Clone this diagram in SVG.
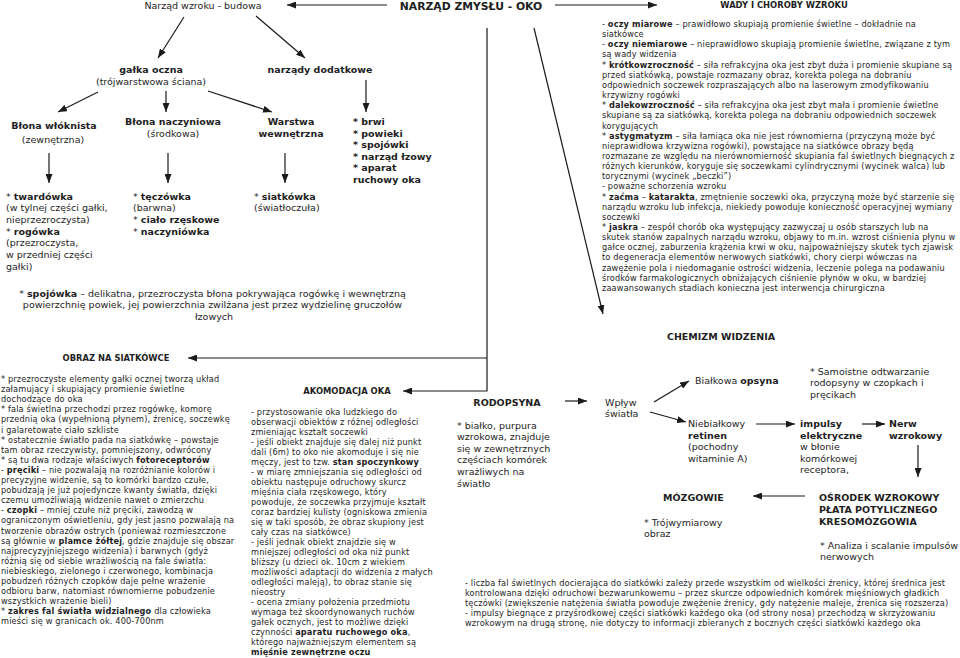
<svg xmlns="http://www.w3.org/2000/svg" width="960" height="658" viewBox="0 0 960 658">
<style>
text{font-family:"DejaVu Sans",Verdana,sans-serif;fill:#1e1e1e}
.p{font-size:8.2px;letter-spacing:0.15px}
.m{font-size:9.5px}
.h{font-size:8.4px;font-weight:bold}
.t{font-size:10.8px;font-weight:bold}
.b{font-weight:bold}
.c{text-anchor:middle}
.ln{stroke:#1a1a1a;stroke-width:1.2;fill:none}
.ar{marker-end:url(#ah)}
</style>
<defs>
<marker id="ah" markerUnits="userSpaceOnUse" markerWidth="9" markerHeight="7" refX="9" refY="3.5" orient="auto">
<path d="M0,0 L9,3.5 L0,7 z" fill="#1a1a1a"/>
</marker>
</defs>
<rect width="960" height="658" fill="#fff"/>

<g id="connectors">
<line class="ln ar" x1="387" y1="5" x2="287" y2="5"/>
<line class="ln ar" x1="555" y1="5" x2="657" y2="5"/>
<line class="ln ar" x1="184" y1="17" x2="158" y2="58"/>
<line class="ln ar" x1="256" y1="16" x2="305" y2="58"/>
<line class="ln ar" x1="98" y1="92" x2="58" y2="112"/>
<line class="ln ar" x1="166" y1="91" x2="166" y2="112"/>
<line class="ln ar" x1="208" y1="91" x2="272" y2="112"/>
<line class="ln ar" x1="366" y1="80" x2="366" y2="112"/>
<line class="ln ar" x1="49" y1="153" x2="49" y2="183"/>
<line class="ln ar" x1="168" y1="153" x2="168" y2="183"/>
<line class="ln ar" x1="285" y1="153" x2="285" y2="183"/>
<polyline class="ln ar" points="487,28 487,391 403,391"/>
<line class="ln ar" x1="487" y1="358" x2="188" y2="358"/>
<line class="ln ar" x1="534" y1="28" x2="603" y2="314"/>
<line class="ln ar" x1="565" y1="401" x2="587" y2="401"/>
<line class="ln ar" x1="654" y1="402" x2="689" y2="381"/>
<line class="ln ar" x1="650" y1="412" x2="686" y2="422"/>
<line class="ln ar" x1="756" y1="424" x2="795" y2="424"/>
<line class="ln ar" x1="862" y1="424" x2="885" y2="424"/>
<line class="ln ar" x1="918" y1="445" x2="918" y2="477"/>
<line class="ln ar" x1="805" y1="496" x2="753" y2="496"/>
</g>

<g id="n-budowa"><text class="m c" x="203" y="9">Narząd wzroku - budowa</text></g>
<g id="n-tytul"><text class="t c" x="471" y="10">NARZĄD ZMYSŁU - OKO</text></g>
<g id="n-wady-naglowek"><text class="h c" x="784" y="8">WADY I CHOROBY WZROKU</text></g>

<g id="n-galka">
<text class="m c b" x="151" y="73">gałka oczna</text>
<text class="m c" x="151" y="85">(trójwarstwowa ściana)</text>
</g>
<g id="n-dodatkowe"><text class="m c b" x="320" y="73">narządy dodatkowe</text></g>

<g id="n-wloknista">
<text class="m c b" x="54" y="129">Błona włóknista</text>
<text class="m c" x="53" y="143">(zewnętrzna)</text>
</g>
<g id="n-naczyniowa">
<text class="m c b" x="173" y="125">Błona naczyniowa</text>
<text class="m c" x="173" y="136.5">(środkowa)</text>
</g>
<g id="n-wewnetrzna">
<text class="m c b" x="291" y="125">Warstwa</text>
<text class="m c b" x="291" y="136.5">wewnętrzna</text>
</g>
<g id="n-dodatkowe-lista">
<text class="m b" x="353" y="125">
<tspan x="353" dy="0">* brwi</tspan>
<tspan x="353" dy="11.5">* powieki</tspan>
<tspan x="353" dy="11.5">* spojówki</tspan>
<tspan x="353" dy="11.5">* narząd łzowy</tspan>
<tspan x="353" dy="11.5">* aparat</tspan>
<tspan x="353" dy="11.5">ruchowy oka</tspan>
</text>
</g>

<g id="n-twardowka">
<text class="m" x="6" y="199.5">
<tspan x="6" dy="0">* <tspan class="b">twardówka</tspan></tspan>
<tspan x="6" dy="11.7">(w tylnej części gałki,</tspan>
<tspan x="6" dy="11.7">nieprzezroczysta)</tspan>
<tspan x="6" dy="11.7">* <tspan class="b">rogówka</tspan></tspan>
<tspan x="6" dy="11.7">(przezroczysta,</tspan>
<tspan x="6" dy="11.7">w przedniej części</tspan>
<tspan x="6" dy="11.7">gałki)</tspan>
</text>
</g>
<g id="n-teczowka">
<text class="m" x="133" y="199.5">
<tspan x="133" dy="0">* <tspan class="b">tęczówka</tspan></tspan>
<tspan x="133" dy="11.7">(barwna)</tspan>
<tspan x="133" dy="11.7">* <tspan class="b">ciało rzęskowe</tspan></tspan>
<tspan x="133" dy="11.7">* <tspan class="b">naczyniówka</tspan></tspan>
</text>
</g>
<g id="n-siatkowka">
<text class="m" x="254" y="199.5">
<tspan x="254" dy="0">* <tspan class="b">siatkówka</tspan></tspan>
<tspan x="254" dy="11.7">(światłoczuła)</tspan>
</text>
</g>
<g id="n-spojowka">
<text class="m c" x="214" y="296.5">
<tspan x="214" dy="0">* <tspan class="b">spojówka</tspan> – delikatna, przezroczysta błona pokrywająca rogówkę i wewnętrzną</tspan>
<tspan x="214" dy="11.5">powierzchnię powiek, jej powierzchnia zwilżana jest przez wydzielinę gruczołów</tspan>
<tspan x="214" dy="11.5">łzowych</tspan>
</text>
</g>

<g id="n-wady">
<text class="p" x="602" y="27">
<tspan x="602" dy="0">- <tspan class="b">oczy miarowe</tspan> – prawidłowo skupiają promienie świetlne – dokładnie na</tspan>
<tspan x="602" dy="10.15">siatkówce</tspan>
<tspan x="602" dy="10.15">- <tspan class="b">oczy niemiarowe</tspan> – nieprawidłowo skupiają promienie świetlne, związane z tym</tspan>
<tspan x="602" dy="10.15">są wady widzenia</tspan>
<tspan x="602" dy="10.15">* <tspan class="b">krótkowzroczność</tspan> – siła refrakcyjna oka jest zbyt duża i promienie skupiane są</tspan>
<tspan x="602" dy="10.15">przed siatkówką, powstaje rozmazany obraz, korekta polega na dobraniu</tspan>
<tspan x="602" dy="10.15">odpowiednich soczewek rozpraszających albo na laserowym zmodyfikowaniu</tspan>
<tspan x="602" dy="10.15">krzywizny rogówki</tspan>
<tspan x="602" dy="10.15">* <tspan class="b">dalekowzroczność</tspan> – siła refrakcyjna oka jest zbyt mała i promienie świetlne</tspan>
<tspan x="602" dy="10.15">skupiane są za siatkówką, korekta polega na dobraniu odpowiednich soczewek</tspan>
<tspan x="602" dy="10.15">korygujących</tspan>
<tspan x="602" dy="10.15">* <tspan class="b">astygmatyzm</tspan> – siła łamiąca oka nie jest równomierna (przyczyną może być</tspan>
<tspan x="602" dy="10.15">nieprawidłowa krzywizna rogówki), powstające na siatkówce obrazy będą</tspan>
<tspan x="602" dy="10.15">rozmazane ze względu na nierównomierność skupiania fal świetlnych biegnących z</tspan>
<tspan x="602" dy="10.15">różnych kierunków, koryguje się soczewkami cylindrycznymi (wycinek walca) lub</tspan>
<tspan x="602" dy="10.15">torycznymi (wycinek „beczki”)</tspan>
<tspan x="602" dy="10.15">- poważne schorzenia wzroku</tspan>
<tspan x="602" dy="10.15">* <tspan class="b">zaćma</tspan> – <tspan class="b">katarakta</tspan>, zmętnienie soczewki oka, przyczyną może być starzenie się</tspan>
<tspan x="602" dy="10.15">narządu wzroku lub infekcja, niekiedy powoduje konieczność operacyjnej wymiany</tspan>
<tspan x="602" dy="10.15">soczewki</tspan>
<tspan x="602" dy="10.15">* <tspan class="b">jaskra</tspan> – zespół chorób oka występujący zazwyczaj u osób starszych lub na</tspan>
<tspan x="602" dy="10.15">skutek stanów zapalnych narządu wzroku, objawy to m.in. wzrost ciśnienia płynu w</tspan>
<tspan x="602" dy="10.15">gałce ocznej, zaburzenia krążenia krwi w oku, najpoważniejszy skutek tych zjawisk</tspan>
<tspan x="602" dy="10.15">to degeneracja elementów nerwowych siatkówki, chory cierpi wówczas na</tspan>
<tspan x="602" dy="10.15">zawężenie pola i niedomaganie ostrości widzenia, leczenie polega na podawaniu</tspan>
<tspan x="602" dy="10.15">środków farmakologicznych obniżających ciśnienie płynów w oku, w bardziej</tspan>
<tspan x="602" dy="10.15">zaawansowanych stadiach konieczna jest interwencja chirurgiczna</tspan>
</text>
</g>

<g id="n-obraz">
<text class="h c" x="116" y="361">OBRAZ NA SIATKÓWCE</text>
<text class="p" x="1" y="382">
<tspan x="1" dy="0">* przezroczyste elementy gałki ocznej tworzą układ</tspan>
<tspan x="1" dy="10.1">załamujący i skupiający promienie świetlne</tspan>
<tspan x="1" dy="10.1">dochodzące do oka</tspan>
<tspan x="1" dy="10.1">* fala świetlna przechodzi przez rogówkę, komorę</tspan>
<tspan x="1" dy="10.1">przednią oka (wypełnioną płynem), źrenicę, soczewkę</tspan>
<tspan x="1" dy="10.1">i galaretowate ciało szkliste</tspan>
<tspan x="1" dy="10.1">* ostatecznie światło pada na siatkówkę – powstaje</tspan>
<tspan x="1" dy="10.1">tam obraz rzeczywisty, pomniejszony, odwrócony</tspan>
<tspan x="1" dy="10.1">* są tu dwa rodzaje właściwych <tspan class="b">fotoreceptorów</tspan></tspan>
<tspan x="1" dy="10.1">- <tspan class="b">pręciki</tspan> – nie pozwalają na rozróżnianie kolorów i</tspan>
<tspan x="1" dy="10.1">precyzyjne widzenie, są to komórki bardzo czułe,</tspan>
<tspan x="1" dy="10.1">pobudzają je już pojedyncze kwanty światła, dzięki</tspan>
<tspan x="1" dy="10.1">czemu umożliwiają widzenie nawet o zmierzchu</tspan>
<tspan x="1" dy="10.1">- <tspan class="b">czopki</tspan> – mniej czułe niż pręciki, zawodzą w</tspan>
<tspan x="1" dy="10.1">ograniczonym oświetleniu, gdy jest jasno pozwalają na</tspan>
<tspan x="1" dy="10.1">tworzenie obrazów ostrych (ponieważ rozmieszczone</tspan>
<tspan x="1" dy="10.1">są głównie w <tspan class="b">plamce żółtej</tspan>, gdzie znajduje się obszar</tspan>
<tspan x="1" dy="10.1">najprecyzyjniejszego widzenia) i barwnych (gdyż</tspan>
<tspan x="1" dy="10.1">różnią się od siebie wrażliwością na fale światła:</tspan>
<tspan x="1" dy="10.1">niebieskiego, zielonego i czerwonego, kombinacja</tspan>
<tspan x="1" dy="10.1">pobudzeń różnych czopków daje pełne wrażenie</tspan>
<tspan x="1" dy="10.1">odbioru barw, natomiast równomierne pobudzenie</tspan>
<tspan x="1" dy="10.1">wszystkich wrażenie bieli)</tspan>
<tspan x="1" dy="10.1">* <tspan class="b">zakres fal światła widzialnego</tspan> dla człowieka</tspan>
<tspan x="1" dy="10.1">mieści się w granicach ok. 400-700nm</tspan>
</text>
</g>

<g id="n-akomodacja">
<text class="h c" x="347" y="394">AKOMODACJA OKA</text>
<text class="p" x="251" y="415">
<tspan x="251" dy="0">- przystosowanie oka ludzkiego do</tspan>
<tspan x="251" dy="10">obserwacji obiektów z różnej odległości</tspan>
<tspan x="251" dy="10">zmieniając kształt soczewki</tspan>
<tspan x="251" dy="10">- jeśli obiekt znajduje się dalej niż punkt</tspan>
<tspan x="251" dy="10">dali (6m) to oko nie akomoduje i się nie</tspan>
<tspan x="251" dy="10">męczy, jest to tzw. <tspan class="b">stan spoczynkowy</tspan></tspan>
<tspan x="251" dy="10">- w miarę zmniejszania się odległości od</tspan>
<tspan x="251" dy="10">obiektu następuje odruchowy skurcz</tspan>
<tspan x="251" dy="10">mięśnia ciała rzęskowego, który</tspan>
<tspan x="251" dy="10">powoduje, że soczewka przyjmuje kształt</tspan>
<tspan x="251" dy="10">coraz bardziej kulisty (ogniskowa zmienia</tspan>
<tspan x="251" dy="10">się w taki sposób, że obraz skupiony jest</tspan>
<tspan x="251" dy="10">cały czas na siatkówce)</tspan>
<tspan x="251" dy="10">- jeśli jednak obiekt znajdzie się w</tspan>
<tspan x="251" dy="10">mniejszej odległości od oka niż punkt</tspan>
<tspan x="251" dy="10">bliższy (u dzieci ok. 10cm z wiekiem</tspan>
<tspan x="251" dy="10">możliwości adaptacji do widzenia z małych</tspan>
<tspan x="251" dy="10">odległości maleją), to obraz stanie się</tspan>
<tspan x="251" dy="10">nieostry</tspan>
<tspan x="251" dy="10">- ocena zmiany położenia przedmiotu</tspan>
<tspan x="251" dy="10">wymaga też skoordynowanych ruchów</tspan>
<tspan x="251" dy="10">gałek ocznych, jest to możliwe dzięki</tspan>
<tspan x="251" dy="10">czynności <tspan class="b">aparatu ruchowego oka</tspan>,</tspan>
<tspan x="251" dy="10">którego najważniejszym elementem są</tspan>
<tspan x="251" dy="10" class="b">mięśnie zewnętrzne oczu</tspan>
</text>
</g>

<g id="n-chemizm"><text class="m b c" x="721" y="339.5">CHEMIZM WIDZENIA</text></g>
<g id="n-rodopsyna">
<text class="m b c" x="507" y="405.5">RODOPSYNA</text>
<text class="m" x="457" y="428.5">
<tspan x="457" dy="0">* białko, purpura</tspan>
<tspan x="457" dy="11.6">wzrokowa, znajduje</tspan>
<tspan x="457" dy="11.6">się w zewnętrznych</tspan>
<tspan x="457" dy="11.6">częściach komórek</tspan>
<tspan x="457" dy="11.6">wrażliwych na</tspan>
<tspan x="457" dy="11.6">światło</tspan>
</text>
</g>
<g id="n-wplyw">
<text class="m" x="605" y="405.5"><tspan x="605" dy="0">Wpływ</tspan><tspan x="605" dy="11.5">światła</tspan></text>
</g>
<g id="n-opsyna"><text class="m" x="695" y="383.5">Białkowa <tspan class="b">opsyna</tspan></text></g>
<g id="n-samoistne">
<text class="m" x="810" y="374.5">
<tspan x="810" dy="0">* Samoistne odtwarzanie</tspan>
<tspan x="810" dy="11.5">rodopsyny w czopkach i</tspan>
<tspan x="810" dy="11.5">pręcikach</tspan>
</text>
</g>
<g id="n-retinen">
<text class="m" x="688" y="427">
<tspan x="688" dy="0">Niebiałkowy</tspan>
<tspan x="688" dy="11.5" class="b">retinen</tspan>
<tspan x="688" dy="11.5">(pochodny</tspan>
<tspan x="688" dy="11.5">witaminie A)</tspan>
</text>
</g>
<g id="n-impulsy">
<text class="m" x="800" y="427">
<tspan x="800" dy="0" class="b">impulsy</tspan>
<tspan x="800" dy="11.5" class="b">elektryczne</tspan>
<tspan x="800" dy="11.5">w błonie</tspan>
<tspan x="800" dy="11.5">komórkowej</tspan>
<tspan x="800" dy="11.5">receptora,</tspan>
</text>
</g>
<g id="n-nerw">
<text class="m b" x="889" y="427"><tspan x="889" dy="0">Nerw</tspan><tspan x="889" dy="11.5">wzrokowy</tspan></text>
</g>
<g id="n-osrodek">
<text class="m b" x="819" y="500.5">
<tspan x="819" dy="0">OŚRODEK WZROKOWY</tspan>
<tspan x="819" dy="12">PŁATA POTYLICZNEGO</tspan>
<tspan x="819" dy="12">KRESOMÓZGOWIA</tspan>
</text>
<text class="m" x="820" y="548.5"><tspan x="820" dy="0">* Analiza i scalanie impulsów</tspan><tspan x="820" dy="11.5">nerwowych</tspan></text>
</g>
<g id="n-mozgowie">
<text class="m b" x="663" y="501">MÓZGOWIE</text>
<text class="m" x="644" y="525.5"><tspan x="644" dy="0">* Trójwymiarowy</tspan><tspan x="644" dy="11.5">obraz</tspan></text>
</g>

<g id="n-uwagi">
<text class="p" x="465" y="586">
<tspan x="465" dy="0">- liczba fal świetlnych docierająca do siatkówki zależy przede wszystkim od wielkości źrenicy, której średnica jest</tspan>
<tspan x="465" dy="10">kontrolowana dzięki odruchowi bezwarunkowemu – przez skurcze odpowiednich komórek mięśniowych gładkich</tspan>
<tspan x="465" dy="10">tęczówki (zwiększenie natężenia światła powoduje zwężenie źrenicy, gdy natężenie maleje, źrenica się rozszerza)</tspan>
<tspan x="465" dy="10">- impulsy biegnące z przyśrodkowej części siatkówki każdego oka (od strony nosa) przechodzą w skrzyżowaniu</tspan>
<tspan x="465" dy="10">wzrokowym na drugą stronę, nie dotyczy to informacji zbieranych z bocznych części siatkówki każdego oka</tspan>
</text>
</g>
</svg>
